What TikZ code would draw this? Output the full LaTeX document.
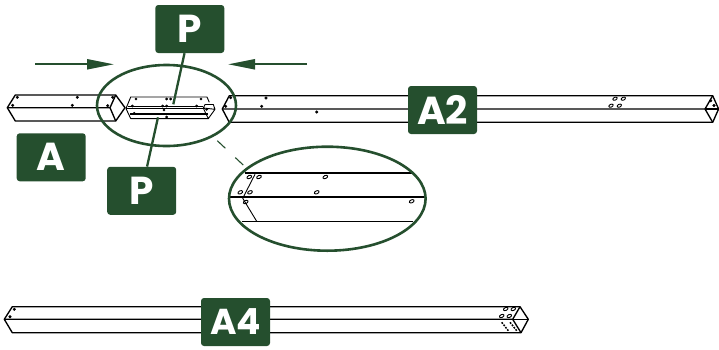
\documentclass[tikz,border=0pt]{standalone}
\usepackage{fontspec}
\setmainfont{Poppins}
\usetikzlibrary{shapes.geometric, arrows.meta, positioning}
\definecolor{partgreen}{HTML}{254F2E}
\tikzset{
	tagbox/.style={fill=partgreen, text=white, rounded corners=3pt, inner sep=0pt, minimum width=69pt, minimum height=48pt, font=\fontsize{39}{39}\selectfont\bfseries},
	ring/.style={draw=partgreen, ellipse, inner sep=0pt, line width=2.6pt},
	beamline/.style={black, line width=1.35pt, line join=round},
	thinline/.style={black, line width=.9pt, line join=round},
	leaderline/.style={draw=partgreen, line width=2.3pt},
	pusharrow/.style={draw=partgreen, line width=2.2pt, -{Triangle[length=27pt,width=10pt]}},
	openhole/.style={draw=black, line width=.9pt, ellipse, rotate=25, inner sep=0pt}
}

\begin{document}
\begin{tikzpicture}[x=1pt,y=-1pt]
	\useasboundingbox (0,0) rectangle (719,349);
	
	% Short beam on the left
	\draw[beamline] (7.3,107.7) -- (15.3,95) -- (115.7,95) -- (125,107.7) -- (115.7,121) -- (15.3,121) -- cycle;
	\draw[beamline] (7.3,107.7) -- (110,107.7) -- (115.7,95);
	\draw[beamline] (110,107.7) -- (115.7,121);
	\foreach \x/\y in {17.3/97.3, 12.7/105.3, 77.3/97.3, 72.3/105.3, 112.7/97.3, 107.7/105.7}
		\draw[fill] (\x,\y) circle (1.3);
	
	% Middle piece with the two plates
	\draw[thinline] (126,108.5) -- (130.7,97) -- (207,97) -- (209.3,102.3);
	\draw[thinline] (126,108.5) -- (130.7,118.6) -- (208.3,118.6);
	\draw[thinline] (128,106) -- (203.3,106);
	\draw[beamline] (126,108.5) -- (205,108.5);
	\draw[line width=2.2pt] (130,114.3) -- (208.3,114.3);
	\draw[thinline] (203.3,108) -- (205,104.5) -- (213.3,104.5) -- (215,109.3) -- (208.3,118.6) -- (205.7,113.3) -- (203.3,108) -- (215,109.3);
	\foreach \x/\y in {136/99, 132.3/106, 166.7/99, 170.7/99, 162.7/106, 166.7/106, 201/99, 196.7/106, 206.7/109.3, 164/110, 134.3/113.3, 166.7/117}
		\draw[fill] (\x,\y) circle (1.2);
	
	% Long beam
	\draw[beamline] (222.3,109) -- (229.3,95.7) -- (712.7,95.7) -- (718.6,109) -- (712.7,122.3) -- (229.3,122.3) -- cycle;
	\draw[beamline] (222.3,109) -- (705,109) -- (712.7,95.7);
	\draw[beamline] (705,109) -- (712.7,122.3);
	\draw[beamline] (705,109) -- (718.6,109);
	\foreach \x/\y in {230.7/97.7, 225.7/106.3, 266/98, 261.7/106.3, 316.7/112, 710.7/100.7, 714/105.5}
		\draw[fill] (\x,\y) circle (1.3);
	\foreach \x/\y in {615/98.7, 623.3/98.7, 611/105.7, 619.3/105.7}
		\node[openhole, minimum width=4.6pt, minimum height=2.8pt] (hole\x) at (\x,\y) {};
	
	% Beam at the bottom
	\draw[beamline] (4.3,319.3) -- (12.3,306.7) -- (520,306.7) -- (528.3,319.3) -- (521,332.7) -- (12.3,332.7) -- cycle;
	\draw[beamline] (4.3,319.3) -- (512.7,319.3) -- (520,306.7);
	\draw[beamline] (512.7,319.3) -- (521,332.7);
	\draw[beamline] (512.7,319.3) -- (528.3,319.3);
	\foreach \x/\y in {14.3/309.3, 10/316.7}
		\draw[fill] (\x,\y) circle (1.3);
	\foreach \x/\y in {505.7/309, 513.3/309, 501.7/316, 509.3/316}
		\node[openhole, minimum width=4.8pt, minimum height=2.9pt] (end\x) at (\x,\y) {};
	\draw[black, line width=1.5pt, dash pattern=on 1.8pt off 1.2pt] (501.7,322.3) -- (508.3,330.7);
	\draw[black, line width=1.5pt, dash pattern=on 1.8pt off 1.2pt] (510,322.3) -- (516.7,330.7);
	
	% Lines and holes inside the enlarged view
	\draw[line width=1.6pt] (245,172.7) -- (411.7,172.7);
	\draw[line width=1.6pt] (230,197) -- (424,197);
	\draw[beamline] (241.7,221.3) -- (413.3,221.3);
	\draw[thinline] (255,174.3) -- (242.7,198.3) -- (256.7,221.3);
	\foreach \x/\y in {249.3/177, 259/177, 325.3/177, 240.3/192.3, 250/192.3, 316.7/192.3, 245.7/202, 411.7/201.3}
		\node[openhole, minimum width=5pt, minimum height=3pt] (lens\x) at (\x,\y) {};
	
	% The two rings
	\node[ring, minimum width=139pt, minimum height=81pt] (bigring) at (166.5,105.5) {};
	\node[ring, minimum width=196.6pt, minimum height=104pt] (lensring) at (327.3,198.7) {};
	\coordinate (leadstart) at (217.3,140.7);
	\coordinate (leadend) at (245,166.7);
	\draw[draw=partgreen, line width=1.1pt, dash pattern=on 11pt off 13.6pt] (leadstart) -- (leadend);
	
	% Labels
	\node[tagbox] (ptop) at (189.8,29) {P};
	\node[tagbox] (plow) at (141.7,190.8) {P};
	\node[tagbox] (aleft) at (51.2,157.3) {A};
	\node[tagbox] (along) at (442.5,110) {A2};
	\node[tagbox, font=\fontsize{36}{36}\selectfont\bfseries] (abottom) at (235.5,322) {A4};
	
	% Leaders from the labels to the plates
	\coordinate (ptopend) at (173.3,104.3);
	\coordinate (plowend) at (158,117.3);
	\draw[leaderline] (ptop) -- (ptopend);
	\draw[leaderline] (plow) -- (plowend);
	
	% Arrows pushing the parts together
	\coordinate (pushl) at (35,64.3);
	\coordinate (pushlend) at (114,64.3);
	\coordinate (pushr) at (307,64.3);
	\coordinate (pushrend) at (228,64.3);
	\draw[pusharrow] (pushl) -- (pushlend);
	\draw[pusharrow] (pushr) -- (pushrend);
\end{tikzpicture}
\end{document}
